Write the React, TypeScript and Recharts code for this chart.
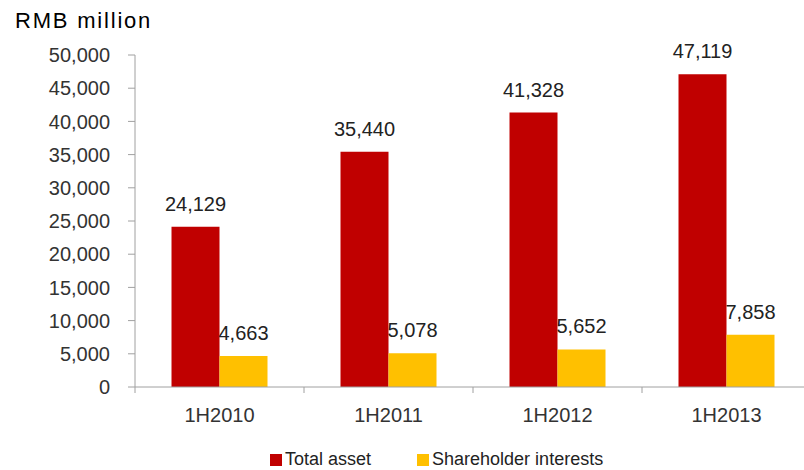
import { BarChart, Bar, XAxis, YAxis, Legend, LabelList } from 'recharts';

const periods = ['1H2010', '1H2011', '1H2012', '1H2013'];
const totalAsset = [24129, 35440, 41328, 47119];
const shareholderInterests = [4663, 5078, 5652, 7858];
const yTicks = [0, 5000, 10000, 15000, 20000, 25000, 30000, 35000, 40000, 45000, 50000];

const data = periods.map((p, i) => ({
  period: p,
  total: totalAsset[i],
  equity: shareholderInterests[i],
}));

const FONT = '"Liberation Sans", Arial, sans-serif';
const AXIS = '#a0a0a0';
const RED = '#c00000';
const YELLOW = '#ffc000';

const fmt = (v: any) => Number(v).toLocaleString('en-US');

function XTick(props: any) {
  const { x, y, payload } = props;
  const half = payload && payload.offset ? payload.offset : 84.5;
  const axisY = y - 21;
  return (
    <g>
      <line x1={x - half} y1={axisY} x2={x - half} y2={axisY + 6} stroke={AXIS} />
      <text x={x} y={y} dy="0.71em" textAnchor="middle" fill="#333" fontSize={20} fontFamily={FONT}>
        {payload.value}
      </text>
    </g>
  );
}

function LegendBox() {
  const items = [
    { name: 'Total asset', color: RED },
    { name: 'Shareholder interests', color: YELLOW },
  ];
  return (
    <div style={{ display: 'flex', fontFamily: FONT, fontSize: 18, color: '#222' }}>
      {items.map((it) => (
        <div key={it.name} style={{ display: 'flex', alignItems: 'center', marginRight: 46 }}>
          <span style={{ width: 12, height: 12, background: it.color, display: 'inline-block', marginRight: 3 }} />
          <span>{it.name}</span>
        </div>
      ))}
    </div>
  );
}

export default function App() {
  return (
    <div style={{ position: 'absolute', left: 0, top: 0, width: 804, height: 470, overflow: 'hidden', background: '#fff' }}>
      <div
        style={{
          position: 'absolute',
          left: 15,
          top: 8,
          fontFamily: FONT,
          fontSize: 22,
          letterSpacing: 1.8,
          color: '#000',
          lineHeight: '26px',
        }}
      >
        RMB million
      </div>
      <BarChart
        width={812}
        height={470}
        data={data}
        margin={{ top: 55, right: 1, left: 0, bottom: 53 }}
        barCategoryGap="21.6%"
        barGap={0}
      >
        <XAxis
          dataKey="period"
          height={30}
          stroke={AXIS}
          tickLine={false}
          tickSize={6}
          tickMargin={15}
          tick={<XTick />}
          interval={0}
        />
        <YAxis
          width={135}
          domain={[0, 50000]}
          ticks={yTicks}
          interval={0}
          tickFormatter={fmt}
          stroke={AXIS}
          tickSize={7}
          tickMargin={18}
          tick={{ fill: '#333', fontSize: 20, fontFamily: FONT }}
        />
        <Legend
          layout="horizontal"
          verticalAlign="middle"
          align="center"
          content={<LegendBox />}
          wrapperStyle={{ top: 449, left: 270, width: 'auto' }}
        />
        <Bar dataKey="total" name="Total asset" fill={RED} isAnimationActive={false}>
          <LabelList dataKey="total" position="top" offset={16} formatter={fmt} fill="#222" fontSize={20} fontFamily={FONT} />
        </Bar>
        <Bar dataKey="equity" name="Shareholder interests" fill={YELLOW} isAnimationActive={false}>
          <LabelList dataKey="equity" position="top" offset={16} formatter={fmt} fill="#222" fontSize={20} fontFamily={FONT} />
        </Bar>
      </BarChart>
    </div>
  );
}
